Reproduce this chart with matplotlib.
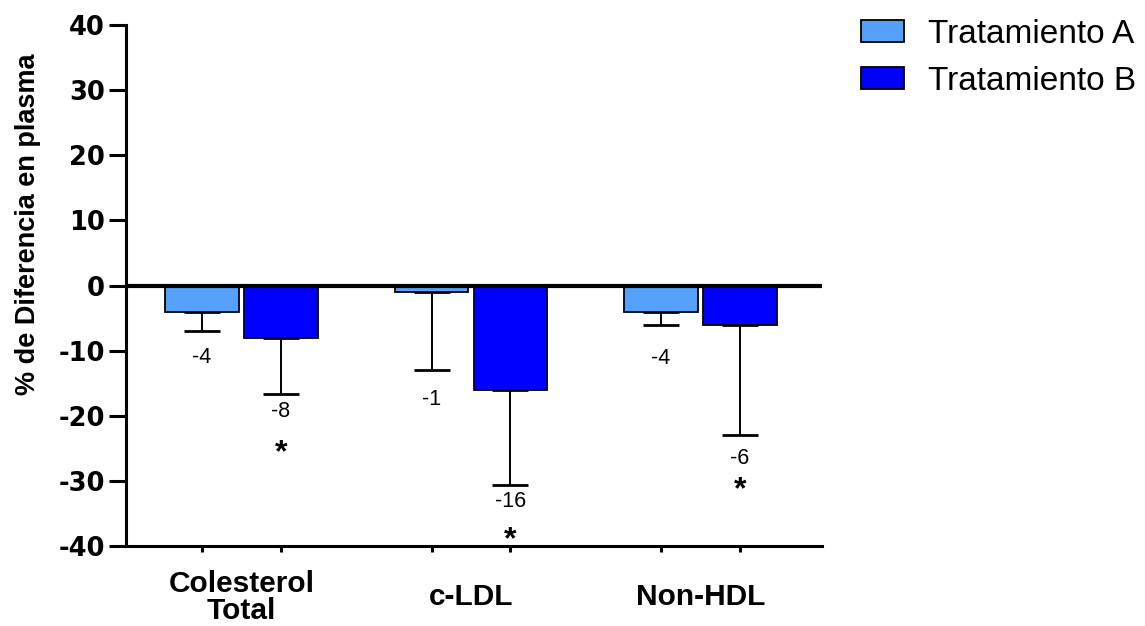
import matplotlib
matplotlib.use("Agg")
import matplotlib.pyplot as plt
import numpy as np

# ---- data ----
categories = ["Colesterol\nTotal", "c-LDL", "Non-HDL"]
series_names = ["Tratamiento A", "Tratamiento B"]
values_a = [-4, -1, -4]
values_b = [-8, -16, -6]
err_a = [3, 12, 2]          # lower error magnitude
err_b = [8.6, 14.6, 17]
labels_a = ["-4", "-1", "-4"]
labels_b = ["-8", "-16", "-6"]
label_y_a = [-11, -17.5, -11.2]
label_y_b = [-19.3, -33.2, -26.6]
signif_b = [True, True, True]
star_y_b = [-27.0, -40.3, -32.6]
yticks = [-40, -30, -20, -10, 0, 10, 20, 30, 40]

color_a = "#55A0FA"
color_b = "#0000FF"

W, H = 1145, 626
fig = plt.figure(figsize=(W / 100, H / 100), dpi=100)
left_px, right_px, top_px, bot_px = 126, 822, 25, 546
ax = fig.add_axes([left_px / W, 1 - bot_px / H, (right_px - left_px) / W, (bot_px - top_px) / H])

x = np.arange(len(categories))
bw = 0.322
off = 0.172
xa = x - off
xb = x + off

ax.bar(xa, values_a, width=bw, color=color_a, edgecolor="black", linewidth=1.3, zorder=2, label=series_names[0])
ax.bar(xb, values_b, width=bw, color=color_b, edgecolor="black", linewidth=1.3, zorder=2, label=series_names[1])

for xs, vals, errs in ((xa, values_a, err_a), (xb, values_b, err_b)):
    ax.errorbar(xs, vals, yerr=[errs, np.zeros(len(errs))], fmt="none", ecolor="black",
                elinewidth=1.4, capsize=13.3, capthick=2.0, zorder=1)

ax.axhline(0, color="black", linewidth=3, zorder=3)

for xs, labs, ly in ((xa, labels_a, label_y_a), (xb, labels_b, label_y_b)):
    for xi, lab, yy in zip(xs, labs, ly):
        ax.text(xi, yy, lab, ha="center", va="center", fontsize=15.5, family="Liberation Sans")

for xi, s, yy in zip(xb, signif_b, star_y_b):
    if s:
        ax.text(xi, yy, "*", ha="center", va="baseline", fontsize=23, fontweight="bold",
                family="Liberation Sans", clip_on=False)

ax.set_ylim(-40, 40)
ax.set_xlim((left_px - 241.5) / 229.5, 2 + (right_px - 700.5) / 229.5)
ax.set_yticks(yticks)
ax.set_yticklabels([str(t) for t in yticks], fontsize=18.5, fontweight="bold", family="DejaVu Sans")
ax.tick_params(axis="y", length=12, width=2.2, direction="out", pad=3)

ax.set_xticks(np.concatenate([xa, xb]))
ax.set_xticklabels([])
ax.tick_params(axis="x", length=4, width=2.2, direction="out")

for i, c in enumerate(categories):
    ax.annotate(c, xy=(x[i], -40), xytext=(0, -37), textcoords="offset points",
                ha="center", va="center", fontsize=21.5, fontweight="bold",
                family="Liberation Sans", linespacing=0.95, annotation_clip=False)

for s in ["top", "right"]:
    ax.spines[s].set_visible(False)
for s in ["left", "bottom"]:
    ax.spines[s].set_linewidth(2.2)

ax.set_ylabel("% de Diferencia en plasma", fontsize=19.5, fontweight="bold", family="Liberation Sans")
ax.yaxis.set_label_coords(-0.122, 0.618)

leg = fig.legend(loc="upper left", bbox_to_anchor=(861 / W, 1 - 19 / H), frameon=False,
                 prop={"family": "Liberation Sans", "size": 24}, handlelength=1.29,
                 handleheight=0.63, handletextpad=0.72, labelspacing=0.47, borderpad=0,
                 borderaxespad=0)

fig.savefig("out.png", dpi=100)
